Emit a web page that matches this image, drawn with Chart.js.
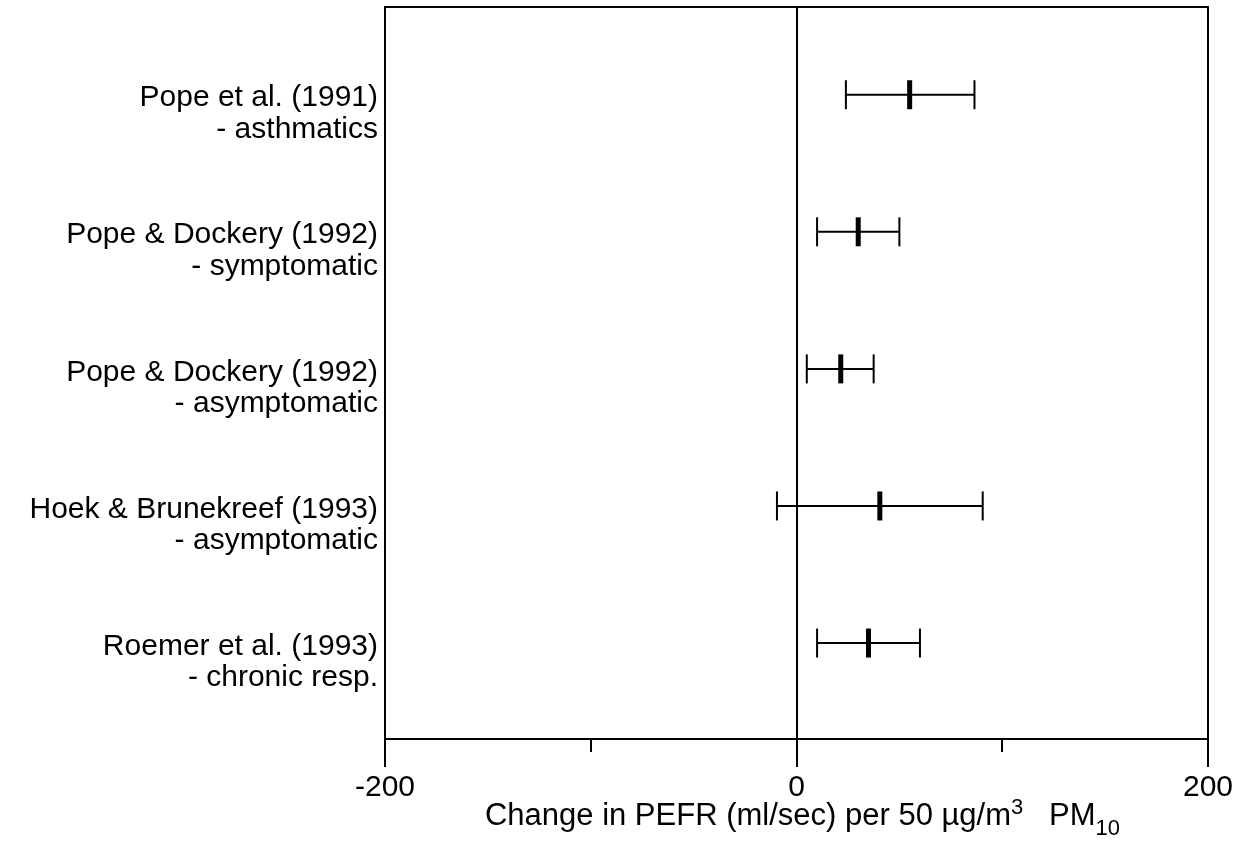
<!DOCTYPE html>
<html>
<head>
<meta charset="utf-8">
<script src="https://cdn.jsdelivr.net/npm/chart.js@4.4.0/dist/chart.umd.min.js"></script>
<style>
  html, body { margin: 0; padding: 0; background: #fff; }
  #wrap { width: 1245px; height: 841px; }
</style>
</head>
<body>
<div id="wrap"><canvas id="pefr"></canvas></div>
<script>
// studies, top to bottom
const studies = [
    ["Pope et al. (1991)", "- asthmatics"],
    ["Pope & Dockery (1992)", "- symptomatic"],
    ["Pope & Dockery (1992)", "- asymptomatic"],
    ["Hoek & Brunekreef (1993)", "- asymptomatic"],
    ["Roemer et al. (1993)", "- chronic resp."]
];
const rowPos = [1, 2, 3, 4, 5];
// change in PEFR (ml/sec) per 50 ug/m3 PM10
const estimate = [55, 30, 21.5, 40.5, 35];
const lower = [24, 10, 5, -9.5, 10];
const upper = [86.5, 50, 37.5, 90.5, 60];
const xLabelTicks = [-200, 0, 200];

const FONT = "'Liberation Sans', Arial, Helvetica, sans-serif";

// one whisker line per study
const whiskers = studies.map((s, i) => ({
    data: [{ x: lower[i], y: rowPos[i] }, { x: upper[i], y: rowPos[i] }],
    showLine: true,
    borderColor: "#000",
    borderWidth: 2,
    pointRadius: 0
}));

const caps = {
    data: rowPos.flatMap((y, i) => [{ x: lower[i], y: y }, { x: upper[i], y: y }]),
    pointStyle: "line",
    pointRotation: 90,
    pointRadius: 14.5,
    pointBorderColor: "#000",
    pointBorderWidth: 2
};

const centers = {
    data: rowPos.map((y, i) => ({ x: estimate[i], y: y })),
    pointStyle: "line",
    pointRotation: 90,
    pointRadius: 14.5,
    pointBorderColor: "#000",
    pointBorderWidth: 5
};

// box around the plot area
const frame = {
    id: "frame",
    afterDraw(chart) {
        const { ctx, chartArea: a } = chart;
        ctx.save();
        ctx.strokeStyle = "#000";
        ctx.lineWidth = 2;
        ctx.strokeRect(a.left, a.top, a.right - a.left, a.bottom - a.top);
        ctx.restore();
    }
};

// axis title with superscript / subscript parts
const xTitle = {
    id: "xTitle",
    afterDraw(chart) {
        const ctx = chart.ctx;
        const a = chart.chartArea;
        const parts = [
            { t: "Change in PEFR (ml/sec) per 50 \u00b5g/m", size: 31, dy: 0 },
            { t: "3", size: 22, dy: -11 },
            { t: "   PM", size: 31, dy: 0 },
            { t: "10", size: 22, dy: 10 }
        ];
        ctx.save();
        ctx.fillStyle = "#000";
        ctx.textBaseline = "alphabetic";
        ctx.textAlign = "left";
        let total = 0;
        parts.forEach(p => {
            ctx.font = p.size + "px " + FONT;
            p.w = ctx.measureText(p.t).width;
            total += p.w;
        });
        let x = (a.left + a.right) / 2 - total / 2 + 6;
        const base = 825;
        parts.forEach(p => {
            ctx.font = p.size + "px " + FONT;
            ctx.fillText(p.t, x, base + p.dy);
            x += p.w;
        });
        ctx.restore();
    }
};

new Chart(document.getElementById("pefr"), {
    type: "scatter",
    data: { datasets: [...whiskers, caps, centers] },
    options: {
        responsive: true,
        maintainAspectRatio: false,
        animation: false,
        events: [],
        layout: { autoPadding: false, padding: { top: 7, right: 37, bottom: 0, left: 0 } },
        plugins: {
            legend: { display: false },
            tooltip: { enabled: false }
        },
        scales: {
            x: {
                type: "linear",
                min: -200,
                max: 200,
                border: { display: false },
                grid: {
                    drawOnChartArea: true,
                    color: c => (c.tick && c.tick.value === 0 ? "#000" : "rgba(0,0,0,0)"),
                    lineWidth: 2,
                    tickColor: "#000",
                    tickWidth: 2,
                    tickLength: 28,
                    // short marks at +-100
                    tickBorderDash: c => (c.tick && xLabelTicks.includes(c.tick.value) ? [] : [13, 60])
                },
                ticks: {
                    stepSize: 100,
                    autoSkip: false,
                    maxRotation: 0,
                    padding: 3,
                    color: "#000",
                    font: { family: FONT, size: 30 },
                    callback: v => (xLabelTicks.includes(v) ? String(v) : "")
                },
                afterFit: s => {
                    s.height = 102;
                    s.paddingLeft = 0;
                    s.paddingRight = 0;
                }
            },
            y: {
                type: "linear",
                reverse: true,
                min: 0.36,
                max: 5.70,
                border: { display: false },
                grid: { display: false, drawTicks: false },
                afterBuildTicks: s => {
                    s.ticks = rowPos.map(v => ({ value: v }));
                },
                ticks: {
                    padding: 7,
                    color: "#000",
                    labelOffset: 19,
                    font: { family: FONT, size: 30, lineHeight: 1.04 },
                    callback: v => {
                        const i = rowPos.indexOf(v);
                        return i >= 0 ? studies[i] : "";
                    }
                },
                afterFit: s => {
                    s.width = 385;
                    s.paddingTop = 0;
                    s.paddingBottom = 0;
                }
            }
        }
    },
    plugins: [frame, xTitle]
});
</script>
</body>
</html>
